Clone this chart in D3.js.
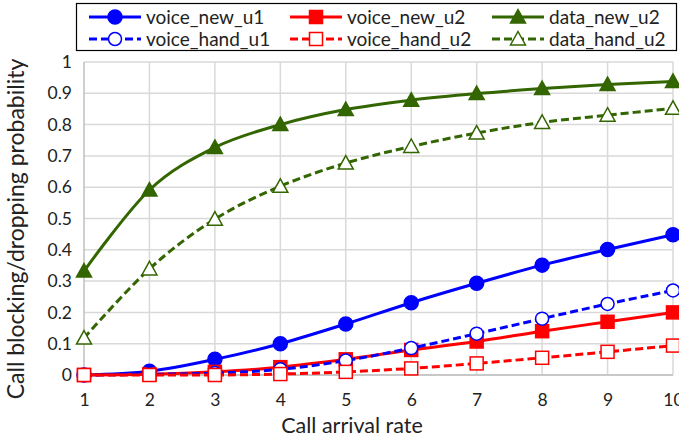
<!DOCTYPE html>
<html><head><meta charset="utf-8">
<script src="https://cdn.jsdelivr.net/npm/d3@7"></script>
<style>body{margin:0;background:#fff}svg{display:block}text{font-family:Lato,"Open Sans",sans-serif;fill:#222}</style>
</head><body><svg id="c" width="679" height="438"></svg>
<script>
const xValues = [1,2,3,4,5,6,7,8,9,10];
const yTicks = [0,0.1,0.2,0.3,0.4,0.5,0.6,0.7,0.8,0.9,1];
const voiceNewU1  = [0,0.012,0.05,0.10,0.163,0.231,0.293,0.351,0.401,0.448];
const voiceNewU2  = [0,0.002,0.01,0.025,0.05,0.08,0.107,0.14,0.17,0.20];
const dataNewU2   = [0.332,0.591,0.727,0.80,0.848,0.878,0.899,0.915,0.928,0.938];
const voiceHandU1 = [0,0.002,0.006,0.018,0.046,0.086,0.132,0.18,0.227,0.27];
const voiceHandU2 = [0,0,0,0.003,0.01,0.021,0.037,0.055,0.074,0.094];
const dataHandU2  = [0.118,0.339,0.498,0.603,0.677,0.73,0.773,0.807,0.83,0.852];
const seriesNames = ["voice_new_u1","voice_new_u2","data_new_u2","voice_hand_u1","voice_hand_u2","data_hand_u2"];

const series = [
  {name:seriesNames[0], values:voiceNewU1, color:"#0000ff", dash:null, shape:"circle", filled:true},
  {name:seriesNames[1], values:voiceNewU2, color:"#ff0000", dash:null, shape:"square", filled:true},
  {name:seriesNames[2], values:dataNewU2, color:"#336600", dash:null, shape:"triangle", filled:true},
  {name:seriesNames[3], values:voiceHandU1, color:"#0000ff", dash:"8,4", shape:"circle", filled:false},
  {name:seriesNames[4], values:voiceHandU2, color:"#ff0000", dash:"8,4", shape:"square", filled:false},
  {name:seriesNames[5], values:dataHandU2, color:"#336600", dash:"8,4", shape:"triangle", filled:false}
];

const svg = d3.select("#c");
svg.append("rect").attr("width",679).attr("height",438).attr("fill","#fff");
const x = d3.scaleLinear().domain([1,10]).range([84,673]);
const y = d3.scaleLinear().domain([0,1]).range([375,62]);

// grid
const g = svg.append("g");
g.selectAll("line.h").data(yTicks).join("line")
  .attr("x1",84).attr("x2",673).attr("y1",d=>y(d)).attr("y2",d=>y(d))
  .attr("stroke","#d9d9d9").attr("stroke-width",1.5);
g.selectAll("line.v").data(xValues.slice(1)).join("line")
  .attr("y1",62).attr("y2",375).attr("x1",d=>x(d)).attr("x2",d=>x(d))
  .attr("stroke","#d9d9d9").attr("stroke-width",1.5);
g.append("line").attr("x1",x(1)).attr("x2",x(1)).attr("y1",62).attr("y2",375).attr("stroke","#bfbfbf").attr("stroke-width",1.5);
g.append("line").attr("x1",84).attr("x2",673).attr("y1",y(0)).attr("y2",y(0)).attr("stroke","#bfbfbf").attr("stroke-width",1.5);

const yAxis = d3.axisLeft(y).tickValues(yTicks).tickSize(0).tickPadding(12).tickFormat(d=>d3.format("")(+d.toFixed(1)));
const ya = svg.append("g").attr("transform","translate(84,0)").call(yAxis);
ya.select(".domain").remove();
ya.selectAll("text").attr("font-size",17.5).attr("font-family","Lato, sans-serif").attr("fill","#222");
const xAxis = d3.axisBottom(x).tickValues(xValues).tickSize(0).tickPadding(19).tickFormat(d3.format("d"));
const xa = svg.append("g").attr("transform","translate(0,375)").call(xAxis);
xa.select(".domain").remove();
xa.selectAll("text").attr("font-size",17.5).attr("font-family","Lato, sans-serif").attr("fill","#222");

svg.append("text").attr("x",352).attr("y",433).attr("text-anchor","middle").attr("font-size",21.5).text("Call arrival rate");
svg.append("text").attr("transform","translate(24,229) rotate(-90)").attr("text-anchor","middle").attr("font-size",23).text("Call blocking/dropping probability");

const line = d3.line().x((d,i)=>x(xValues[i])).y(d=>y(d)).curve(d3.curveCatmullRom.alpha(0));

function marker(sel, s, cx, cy){
  const fill = s.filled ? s.color : "#fff";
  if(s.shape==="circle"){
    sel.append("circle").attr("cx",cx).attr("cy",cy).attr("r",s.filled?7:6.5)
      .attr("fill",fill).attr("stroke",s.color).attr("stroke-width",1.5);
  } else if(s.shape==="square"){
    const h = 6.5;
    sel.append("rect").attr("x",cx-h).attr("y",cy-h).attr("width",2*h).attr("height",2*h)
      .attr("fill",fill).attr("stroke",s.color).attr("stroke-width",1.5);
  } else {
    const h=7.5;
    sel.append("path").attr("d",`M${cx},${cy-h}L${cx+h},${cy+h*0.8}L${cx-h},${cy+h*0.8}Z`)
      .attr("fill",fill).attr("stroke",s.color).attr("stroke-width",1.5);
  }
}

series.forEach(s=>{
  const gs = svg.append("g");
  gs.append("path").attr("d",line(s.values)).attr("fill","none").attr("stroke",s.color)
    .attr("stroke-width",3).attr("stroke-dasharray",s.dash);
  s.values.forEach((v,i)=>marker(gs,s,x(xValues[i]),y(v)));
});

const lg = svg.append("g");
lg.append("rect").attr("x",76.5).attr("y",3.5).attr("width",600).attr("height",47).attr("fill","#fff").attr("stroke","#000").attr("stroke-width",1.2);
const colX = [89,290,492], rowY = [17,39];
series.forEach((s,i)=>{
  const cx = colX[i%3], cy = rowY[Math.floor(i/3)];
  lg.append("line").attr("x1",cx).attr("x2",cx+52).attr("y1",cy).attr("y2",cy)
    .attr("stroke",s.color).attr("stroke-width",3).attr("stroke-dasharray",s.dash);
  marker(lg,s,cx+26,cy);
  lg.append("text").attr("x",cx+57).attr("y",cy+6.5).attr("font-size",19).text(s.name);
});
</script></body></html>
